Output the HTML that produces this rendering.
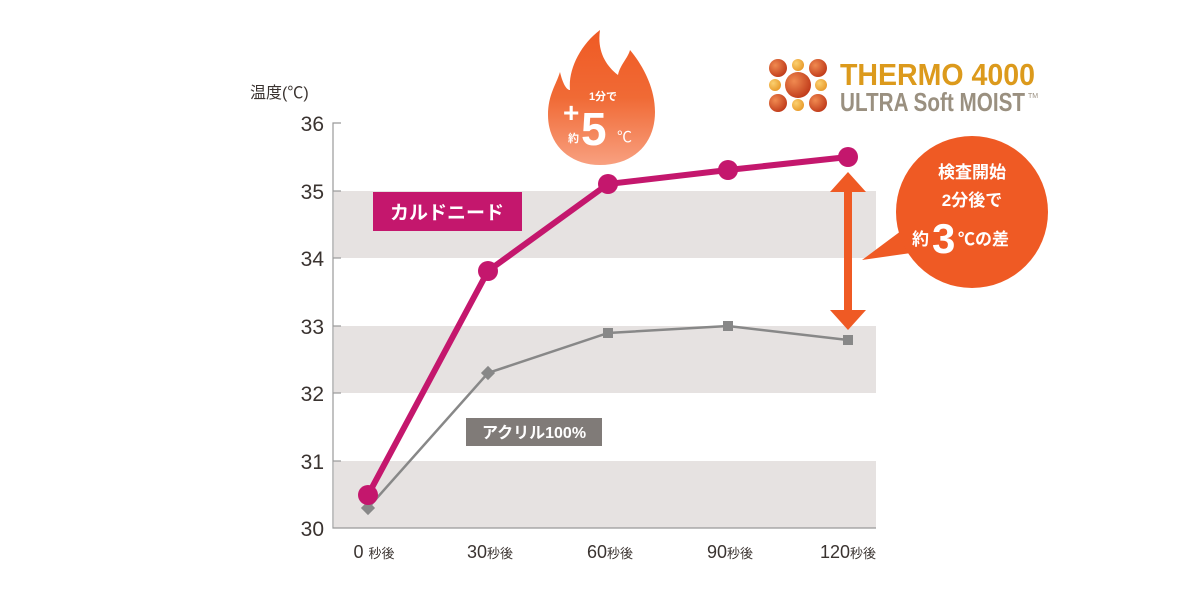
<!DOCTYPE html>
<html><head><meta charset="utf-8"><style>
body{margin:0;background:#fff;}
text{font-family:"Liberation Sans","Noto Sans CJK JP",sans-serif;}
</style></head><body>
<svg width="1200" height="600" viewBox="0 0 1200 600" xmlns="http://www.w3.org/2000/svg">
<defs>
<linearGradient id="fl" x1="0" y1="0" x2="0" y2="1"><stop offset="0" stop-color="#ef5a24"/><stop offset="0.5" stop-color="#f06a35"/><stop offset="1" stop-color="#f8a080"/></linearGradient>
<radialGradient id="b1" cx="0.35" cy="0.35" r="0.7"><stop offset="0" stop-color="#f08a50"/><stop offset="1" stop-color="#c03a1a"/></radialGradient>
<radialGradient id="b2" cx="0.35" cy="0.35" r="0.7"><stop offset="0" stop-color="#fbd070"/><stop offset="1" stop-color="#e89a2a"/></radialGradient>
</defs>
<rect x="334" y="191" width="542" height="67" fill="#e6e2e1"/>
<rect x="334" y="326" width="542" height="67" fill="#e6e2e1"/>
<rect x="334" y="461" width="542" height="67" fill="#e6e2e1"/>
<path d="M341 123H333V528H876" fill="none" stroke="#999" stroke-width="1.2"/>
<g stroke="#999" stroke-width="1.2">
<line x1="333" y1="191" x2="341" y2="191"/><line x1="333" y1="258" x2="341" y2="258"/><line x1="333" y1="326" x2="341" y2="326"/><line x1="333" y1="393" x2="341" y2="393"/><line x1="333" y1="461" x2="341" y2="461"/>
</g>
<g font-size="21" fill="#3a3330" text-anchor="end">
<text x="324" y="131">36</text><text x="324" y="199">35</text><text x="324" y="266">34</text><text x="324" y="334">33</text><text x="324" y="401">32</text><text x="324" y="469">31</text><text x="324" y="536">30</text>
</g>
<text x="250" y="98" font-size="16" fill="#3a3330">温度(℃)</text>
<g font-size="18" fill="#3a3330" text-anchor="middle">
<text x="374" y="558">0 <tspan font-size="13">秒後</tspan></text>
<text x="490" y="558">30<tspan font-size="13">秒後</tspan></text>
<text x="610" y="558">60<tspan font-size="13">秒後</tspan></text>
<text x="730" y="558">90<tspan font-size="13">秒後</tspan></text>
<text x="848" y="558">120<tspan font-size="13">秒後</tspan></text>
</g>
<polyline points="368,508 488,373 608,333 728,326 848,340" fill="none" stroke="#888" stroke-width="2.5"/>
<g fill="#888">
<rect x="363" y="503" width="10" height="10" transform="rotate(45 368 508)"/>
<rect x="483" y="368" width="10" height="10" transform="rotate(45 488 373)"/>
<rect x="603" y="328" width="10" height="10"/><rect x="723" y="321" width="10" height="10"/><rect x="843" y="335" width="10" height="10"/>
</g>
<polyline points="368,495 488,271 608,184 728,170 848,157" fill="none" stroke="#c4176d" stroke-width="6"/>
<g fill="#c4176d">
<circle cx="368" cy="495" r="10"/><circle cx="488" cy="271" r="10"/><circle cx="608" cy="184" r="10"/><circle cx="728" cy="170" r="10"/><circle cx="848" cy="157" r="10"/>
</g>
<rect x="373" y="192" width="149" height="39" fill="#c4176d"/>
<text x="447" y="219" font-size="19" fill="#fff" text-anchor="middle" font-weight="bold">カルドニード</text>
<rect x="466" y="418" width="136" height="28" fill="#807b78"/>
<text x="534" y="438" font-size="16" fill="#fff" text-anchor="middle" font-weight="bold">アクリル100%</text>
<!-- flame -->
<path d="M600 165C570 165 548 145 548 115C548 95 556 85 560 72C563 85 567 90 570 90C568 70 580 45 600 30C597 50 605 65 618 75C620 65 628 58 630 50C640 62 655 85 655 112C655 145 632 165 600 165Z" fill="url(#fl)"/>
<text x="603" y="100" font-size="11" fill="#fff" text-anchor="middle" font-weight="bold">1分で</text>
<text x="563" y="122" font-size="28" fill="#fff" font-weight="bold">+</text>
<text x="568" y="142" font-size="11" fill="#fff" font-weight="bold">約</text>
<text x="581" y="145" font-size="46" fill="#fff" font-weight="bold">5</text>
<text x="617" y="142" font-size="15" fill="#fff">℃</text>
<!-- logo -->
<g>
<circle cx="778" cy="68" r="9" fill="url(#b1)"/><circle cx="798" cy="65" r="6" fill="url(#b2)"/><circle cx="818" cy="68" r="9" fill="url(#b1)"/>
<circle cx="775" cy="85" r="6" fill="url(#b2)"/><circle cx="798" cy="85" r="13" fill="url(#b1)"/><circle cx="821" cy="85" r="6" fill="url(#b2)"/>
<circle cx="778" cy="103" r="9" fill="url(#b1)"/><circle cx="798" cy="105" r="6" fill="url(#b2)"/><circle cx="818" cy="103" r="9" fill="url(#b1)"/>
</g>
<text x="840" y="85" font-size="31" font-weight="bold" fill="#dc9a1c" textLength="195" lengthAdjust="spacingAndGlyphs">THERMO 4000</text>
<text x="840" y="111" font-size="26" font-weight="bold" fill="#9a9080" textLength="185" lengthAdjust="spacingAndGlyphs">ULTRA Soft MOIST</text>
<text x="1028" y="98" font-size="7" fill="#9a9080">TM</text>
<!-- arrow -->
<line x1="848" y1="190" x2="848" y2="312" stroke="#ef5a24" stroke-width="8"/>
<polygon points="830,192 848,172 866,192" fill="#ef5a24"/>
<polygon points="830,310 848,330 866,310" fill="#ef5a24"/>
<!-- bubble -->
<polygon points="905,228 862,260 918,252" fill="#ef5a24"/>
<circle cx="972" cy="212" r="76" fill="#ef5a24"/>
<text x="972" y="178" font-size="17" fill="#fff" text-anchor="middle" font-weight="bold">検査開始</text>
<text x="972" y="206" font-size="17" fill="#fff" text-anchor="middle" font-weight="bold">2分後で</text>
<text x="912" y="245" font-size="17" fill="#fff" font-weight="bold">約</text>
<text x="932" y="253" font-size="42" fill="#fff" font-weight="bold">3</text>
<text x="958" y="245" font-size="17" fill="#fff" font-weight="bold">℃の差</text>
</svg>
</body></html>
